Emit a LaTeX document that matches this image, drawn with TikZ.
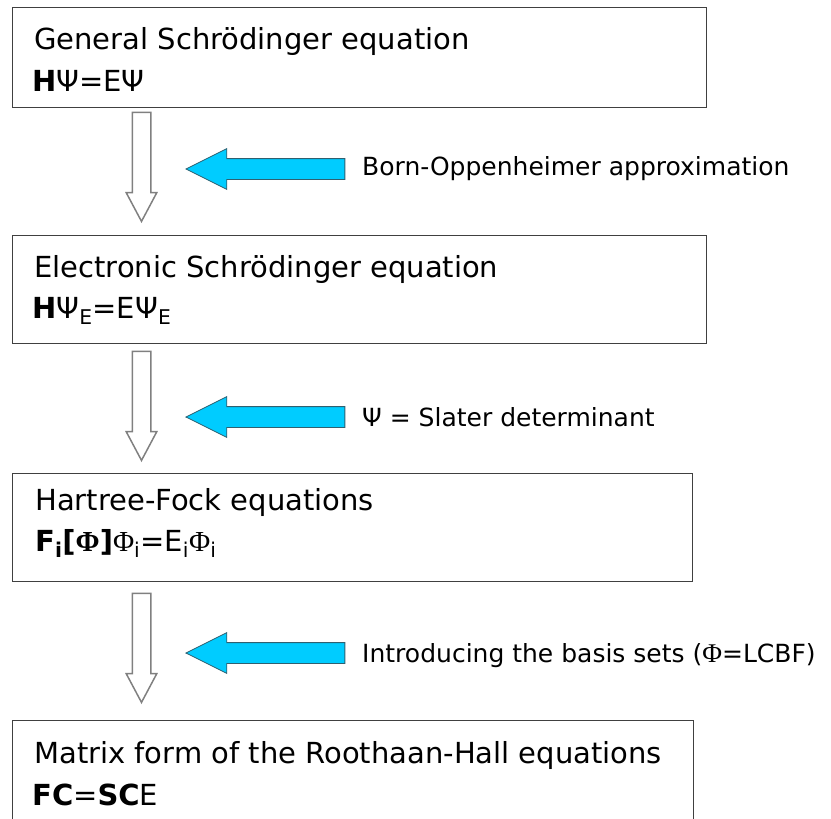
\documentclass[tikz,border=0pt]{standalone}
\usepackage{fontspec}
\setmainfont{DejaVu Sans}
\newfontfamily\phifont{Liberation Serif}
\usetikzlibrary{shapes.arrows}
\definecolor{boxline}{HTML}{404040}
\definecolor{hollowline}{HTML}{808080}
\definecolor{hintfill}{HTML}{00CCFF}
\definecolor{hintline}{HTML}{2F6070}

\begin{document}
\begin{tikzpicture}[x=1pt,y=-1pt,
  box/.style={rectangle,draw=boxline,line width=1.3pt,anchor=north west,inner sep=0pt,minimum width=694pt},
  head/.style={anchor=base west,inner sep=0pt,font=\fontsize{29}{35}\selectfont},
  note/.style={anchor=base west,inner sep=0pt,font=\fontsize{25}{30}\selectfont},
  flow/.style={single arrow,draw=hollowline,line width=1.5pt,fill=white,rotate=-90,anchor=tip,
    minimum height=109pt,inner xsep=0pt,inner ysep=8.5pt,single arrow head extend=6pt,
    single arrow tip angle=56},
  hint/.style={single arrow,draw=hintline,line width=0.8pt,fill=hintfill,rotate=180,anchor=tip,
    minimum height=159pt,inner xsep=0pt,inner ysep=10pt,single arrow head extend=10pt,
    single arrow tip angle=53}]
\useasboundingbox (0,0) rectangle (831,819);
\clip (0,0) rectangle (831,819);

% the four stages
\node[box,minimum height=100pt] (gen) at (12,7) {};
\node[head] (tgen) at (34,49) {General Schrödinger equation};
\node[head] (egen) at (32,91) {\textbf{H}Ψ=EΨ};

\node[box,minimum height=108pt] (ele) at (12,235) {};
\node[head] (tele) at (34,277) {Electronic Schrödinger equation};
\node[head] (eele) at (32,318) {\textbf{H}Ψ\textsubscript{E}=EΨ\textsubscript{E}};

\node[box,minimum height=108pt,minimum width=680pt] (hf) at (12,473) {};
\node[head] (thf) at (35,510) {Hartree-Fock equations};
\node[head] (ehf) at (35,551) {\textbf{F\textsubscript{i}[}{\phifont\bfseries Φ}\textbf{]}{\phifont Φ}\textsubscript{i}=E\textsubscript{i}{\phifont Φ}\textsubscript{i}};

\node[box,minimum height=130pt,minimum width=681pt] (rh) at (12,720) {};
\node[head] (trh) at (34,763) {Matrix form of the Roothaan-Hall equations};
\node[head] (erh) at (32,805) {\textbf{FC}=\textbf{SC}E};

% steps between them
\node[flow] (d1) at (141.5,223) {};
\node[flow] (d2) at (141.5,462) {};
\node[flow] (d3) at (141.5,704) {};

% what each step brings in
\node[hint] (p1) at (185,169) {};
\node[hint] (p2) at (185,417) {};
\node[hint] (p3) at (185,653) {};
\node[note] (n1) at (362,175) {Born-Oppenheimer approximation};
\node[note] (n2) at (362,426) {Ψ = Slater determinant};
\node[note] (n3) at (362,662) {Introducing the basis sets ({\phifont\fontsize{27}{30}\selectfont Φ}=LCBF)};
\end{tikzpicture}
\end{document}
